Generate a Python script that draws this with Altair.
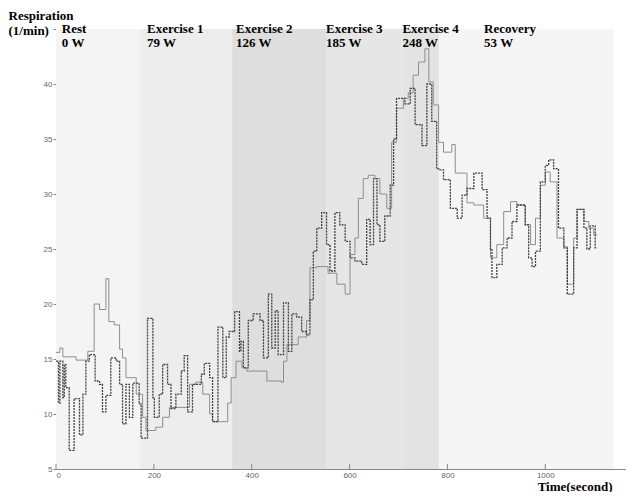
import altair as alt
import pandas as pd

# ---- data ----
solid_t = [0, 8, 14, 41, 65, 78, 89, 102, 108, 119, 130, 136, 143, 164, 177, 184, 204, 218, 232,
           273, 286, 300, 314, 320, 351, 358, 368, 380, 390, 431, 460, 465, 472, 495, 512, 519,
           533, 556, 574, 591, 601, 611, 618, 628, 638, 652, 662, 676, 686, 696, 710, 720, 730,
           741, 754, 762, 771, 782, 792, 809, 816, 840, 854, 874, 888, 901, 915, 929, 942, 959,
           970, 980, 990, 1000, 1010, 1024, 1038, 1045, 1058, 1065, 1079, 1089, 1099, 1106]
solid_v = [15.6, 16.0, 15.2, 14.9, 15.7, 20.0, 19.5, 22.3, 18.4, 18.1, 15.9, 15.1, 13.3, 11.8, 9.7,
           8.5, 8.8, 9.7, 10.6, 12.7, 12.9, 11.8, 10.0, 9.3, 11.0, 13.3, 14.8, 14.2, 13.9, 13.0,
           12.9, 14.8, 16.3, 17.0, 18.5, 23.3, 23.4, 22.8, 21.8, 20.9, 24.5, 26.0, 29.6, 31.4,
           31.7, 31.4, 30.0, 28.7, 34.7, 37.8, 38.7, 39.2, 40.8, 42.0, 43.2, 40.2, 38.1, 34.7,
           33.8, 34.5, 31.9, 29.2, 29.0, 27.8, 24.2, 25.4, 28.4, 29.3, 29.0, 27.2, 25.4, 27.8,
           30.8, 32.0, 31.1, 26.0, 25.2, 21.8, 26.0, 28.6, 27.5, 26.9, 26.3, 26.3]

dash_t = [0, 5, 8, 14, 17, 20, 27, 37, 48, 55, 61, 68, 80, 89, 95, 102, 112, 123, 130, 136, 143,
          150, 157, 170, 174, 187, 198, 201, 211, 218, 228, 235, 245, 256, 262, 269, 279, 297,
          303, 314, 320, 331, 341, 348, 354, 365, 375, 378, 383, 393, 403, 417, 424, 434, 441,
          448, 454, 465, 475, 482, 492, 502, 512, 519, 526, 533, 543, 553, 560, 570, 580, 591,
          601, 611, 625, 635, 642, 649, 656, 662, 672, 683, 690, 696, 713, 724, 734, 748, 758,
          768, 778, 782, 792, 806, 820, 830, 840, 854, 871, 881, 888, 891, 901, 912, 922, 932,
          942, 959, 966, 973, 980, 990, 1000, 1007, 1017, 1027, 1038, 1045, 1058, 1065, 1079,
          1085, 1092, 1102, 1106]
dash_v = [14.8, 11.0, 14.8, 11.5, 14.5, 12.4, 6.7, 11.4, 8.1, 11.8, 14.8, 15.4, 13.0, 12.7, 10.2,
          11.7, 15.1, 14.8, 12.7, 9.1, 12.7, 9.7, 12.8, 10.9, 7.8, 18.7, 11.5, 9.7, 11.8, 14.5,
          12.7, 10.5, 11.8, 13.9, 15.3, 10.2, 12.7, 13.6, 14.6, 13.3, 9.3, 17.9, 13.3, 17.0,
          17.5, 19.3, 15.7, 16.6, 14.2, 18.5, 19.1, 18.5, 15.1, 20.9, 16.0, 19.4, 15.4, 20.1,
          15.7, 19.1, 18.8, 17.5, 17.2, 20.4, 24.8, 26.9, 28.3, 25.4, 23.0, 28.3, 27.2, 25.7,
          24.2, 23.9, 23.6, 27.7, 25.4, 31.4, 27.2, 25.7, 28.0, 30.8, 35.0, 38.7, 38.2, 39.6,
          36.3, 34.4, 40.0, 36.6, 32.3, 32.2, 31.3, 28.7, 27.8, 29.9, 30.5, 31.9, 30.4, 27.8,
          25.0, 22.4, 23.6, 25.1, 26.0, 27.5, 29.0, 27.2, 24.2, 23.4, 24.8, 31.1, 32.6, 33.1,
          32.3, 26.9, 25.1, 20.9, 25.1, 28.6, 26.9, 25.0, 27.1, 25.1, 25.1]

phase_names = ["Rest", "Exercise 1", "Exercise 2", "Exercise 3", "Exercise 4", "Recovery"]
phase_power = ["0 W", "79 W", "126 W", "185 W", "248 W", "53 W"]
phase_start = [0, 172, 360, 552, 708, 783]
phase_end = [172, 360, 552, 708, 783, 1139]
phase_fill = ["#f4f4f4", "#ededed", "#dedede", "#e6e6e6", "#e3e3e3", "#f5f5f5"]
label_t = [12, 186, 368, 552, 708, 875]

x_ticks = [0, 200, 400, 600, 800, 1000]
y_ticks = [5, 10, 15, 20, 25, 30, 35, 40, 45]

# ---- tables ----
solid_df = pd.DataFrame({"t": solid_t, "v": solid_v})
dash_df = pd.DataFrame({"t": dash_t, "v": dash_v})
phase_df = pd.DataFrame({"t": phase_start, "t2": phase_end, "fill": phase_fill,
                         "name": phase_names, "power": phase_power})
label_df = pd.DataFrame({"t": label_t, "name": phase_names, "power": phase_power})
tick_df = pd.DataFrame({"t": x_ticks})

x_scale = alt.Scale(domain=[0, 1165], nice=False, zero=False)
y_scale = alt.Scale(domain=[5, 45], nice=False, zero=False)

x_axis = alt.Axis(title="Time(second)", values=x_ticks, format="d", tickSize=0, grid=False,
                  labelFont="Liberation Sans", labelFontSize=8, labelColor="#666666",
                  labelPadding=2, domainColor="#888888",
                  titleFont="Liberation Serif", titleFontWeight="bold", titleFontSize=13,
                  titleColor="#000000", titleAlign="right", titleAnchor="start",
                  titleX=556, titleY=21, titleBaseline="alphabetic")
y_axis = alt.Axis(title=["Respiration", "(1/min)"], values=y_ticks, tickSize=3, grid=False,
                  labelExpr="datum.value == 45 ? '' : datum.label",
                  labelFont="Liberation Sans", labelFontSize=8, labelColor="#666666",
                  labelPadding=1, domainColor="#888888", tickColor="#888888",
                  titleFont="Liberation Serif", titleFontWeight="bold", titleFontSize=13,
                  titleColor="#000000", titleAngle=0, titleAlign="left",
                  titleAnchor="start", titleX=-48, titleY=-10, titleBaseline="alphabetic",
                  titleLineHeight=15)

X = alt.X("t:Q", scale=x_scale, axis=x_axis)
Y = alt.Y("v:Q", scale=y_scale, axis=y_axis)

bands = alt.Chart(phase_df).mark_rect().encode(
    x=alt.X("t:Q", scale=x_scale, axis=x_axis),
    x2="t2:Q",
    y=alt.Y(datum=5, scale=y_scale, axis=y_axis),
    y2=alt.datum(45),
    color=alt.Color("fill:N", scale=None),
)

ticks = alt.Chart(tick_df).mark_rule(color="#888888", strokeWidth=1).encode(
    x=X,
    y=alt.Y(datum=5, scale=y_scale, axis=y_axis),
    y2=alt.datum(5.45),
)

solid = alt.Chart(solid_df).mark_line(
    interpolate="step-after", color="#8e8e8e", strokeWidth=1
).encode(x=X, y=Y)

dashed = alt.Chart(dash_df).mark_line(
    interpolate="step-after", color="#404040", strokeWidth=1.3, strokeDash=[2, 1]
).encode(x=X, y=Y)

lab1 = alt.Chart(label_df).mark_text(
    align="left", baseline="alphabetic", font="Liberation Serif", fontWeight="bold",
    fontSize=13, color="#000000"
).encode(x=X, y=alt.value(4), text="name:N")

lab2 = alt.Chart(label_df).mark_text(
    align="left", baseline="alphabetic", font="Liberation Serif", fontWeight="bold",
    fontSize=13, color="#000000"
).encode(x=X, y=alt.value(18), text="power:N")

chart = alt.layer(bands, ticks, solid, dashed, lab1, lab2).properties(
    width=570, height=440,
    autosize=alt.AutoSizeParams(type="none"),
    padding={"left": 48, "top": 21, "right": 0, "bottom": 23},
    background="#ffffff",
).configure_view(stroke=None)

chart.save("out.html", embed_options={"renderer": "svg", "actions": False})
